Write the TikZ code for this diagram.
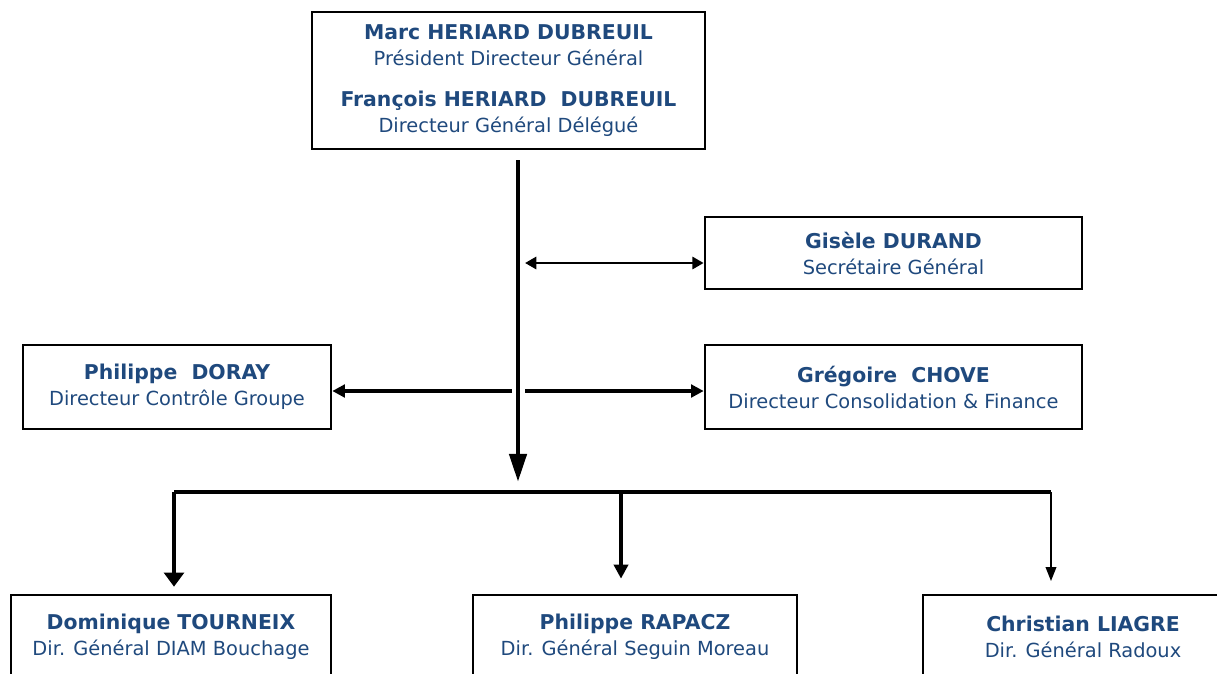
\documentclass[tikz,border=0pt]{standalone}
\usepackage{fontspec}
\setmainfont{DejaVu Sans}
\usetikzlibrary{arrows.meta}

\newcommand{\who}[2]{{\fontsize{14.5}{18.5}\selectfont\bfseries #1}\\#2}

\tikzset{
    post/.style={draw,line width=1.8pt,align=center,text=postblue,inner sep=0pt,
        font=\fontsize{13.8}{18.5}\selectfont},
}

\begin{document}
\begin{tikzpicture}[x=0.025cm,y=-0.025cm]
            \definecolor{postblue}{RGB}{31,73,125}
            \useasboundingbox (0,0) rectangle (1217,673);
            \clip (0,0) rectangle (1217,673);

            \node [post,minimum width=9.825cm,minimum height=3.425cm] (pdg) at (508.5,80.5)
                {\who{Marc HERIARD DUBREUIL}{Président Directeur Général}\\[11pt]
                 \who{François HERIARD\ \ DUBREUIL}{Directeur Général Délégué}};
            \node [post,minimum width=9.425cm,minimum height=1.8cm] (sg) at (893.5,253)
                {\who{Gisèle DURAND}{Secrétaire Général}};
            \node [post,minimum width=7.7cm,minimum height=2.1cm] (ctrl) at (177,387)
                {\who{Philippe\ \ DORAY}{Directeur Contrôle Groupe}};
            \node [post,minimum width=9.425cm,minimum height=2.1cm] (conso) at (893.5,387)
                {\who{Grégoire\ \ CHOVE}{Directeur Consolidation \& Finance}};
            \foreach \x/\w/\n/\s/\r in {171/8.0/diam/Dominique TOURNEIX/Dir. Général DIAM Bouchage,
                    635/8.1/sm/Philippe RAPACZ/Dir. Général Seguin Moreau,
                    1083/8.0/radoux/Christian LIAGRE/Dir. Général Radoux} {
                \node [post,minimum width=\w cm,minimum height=2.1cm] (\n) at (\x,637) {\who{\s}{\r}};
            }

            \coordinate (spine) at (518,160);
            \coordinate (hub) at (518,482);
            \coordinate (sgl) at (525,263);
            \coordinate (ctl) at (512,391);
            \coordinate (cnl) at (525,391);
            \coordinate (busl) at (174,492);
            \coordinate (busr) at (1051,492);

            \draw [line width=3.5pt,-{Triangle[length=20pt,width=12pt]}] (spine) -- (hub);
            \draw [line width=2pt,{Triangle[length=8pt,width=8.5pt]}-{Triangle[length=8pt,width=8.5pt]}]
                (sgl) -- (sgl -| sg.west);
            \draw [line width=2.6pt,-{Triangle[length=9pt,width=9pt]}] (ctl) -- (ctl -| ctrl.east);
            \draw [line width=2.6pt,-{Triangle[length=9pt,width=9pt]}] (cnl) -- (cnl -| conso.west);

            \draw [line width=2.6pt] (busl) -- (busr);
            \foreach \x/\n/\lw/\hw/\sh in {174/diam/3.5/14/5,621/sm/2.8/10/10.7,1051/radoux/1.4/7.5/9} {
                \draw [line width=\lw pt,shorten >=\sh pt,-{Triangle[length=10pt,width=\hw pt]}]
                    (\x,492) -- (\x,492 |- \n.north);
            }
        \end{tikzpicture}
\end{document}
